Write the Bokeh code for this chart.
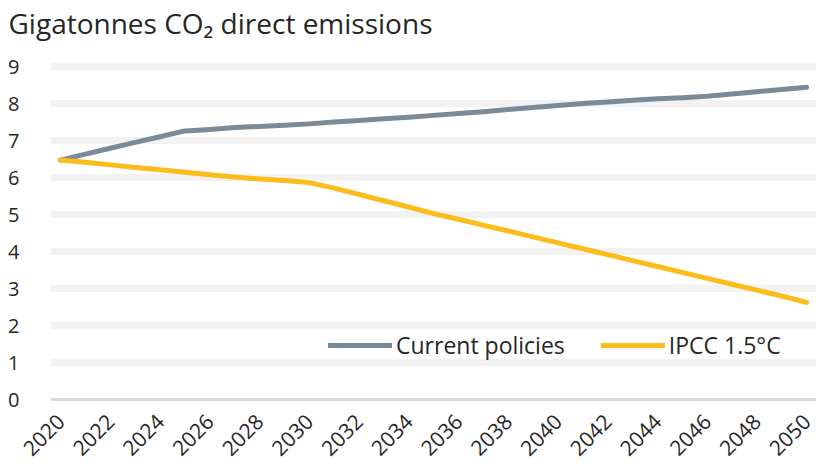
from bokeh.plotting import figure
from bokeh.layouts import column
from bokeh.models import FixedTicker, Span, Range1d, Legend, LegendItem
from bokeh.embed import file_html
from bokeh.resources import INLINE
import math

years = list(range(2020, 2051))
current_policies = [6.48, 6.64, 6.80, 6.96, 7.11, 7.27, 7.31, 7.36, 7.39, 7.42,
                    7.46, 7.51, 7.55, 7.60, 7.64, 7.69, 7.74, 7.79, 7.85, 7.90,
                    7.96, 8.01, 8.05, 8.10, 8.14, 8.17, 8.21, 8.27, 8.33, 8.39, 8.45]
ipcc_15 = [6.48, 6.42, 6.35, 6.28, 6.22, 6.15, 6.08, 6.02, 5.97, 5.93,
           5.87, 5.72, 5.55, 5.38, 5.21, 5.03, 4.88, 4.72, 4.56, 4.40,
           4.24, 4.08, 3.92, 3.76, 3.60, 3.44, 3.28, 3.12, 2.96, 2.80, 2.63]
x_ticks = list(range(2020, 2051, 2))
y_ticks = [0, 1, 2, 3, 4, 5, 6, 7, 8, 9]
title_text = "Gigatonnes CO\u2082 direct emissions"
series_names = ["Current policies", "IPCC 1.5\u00b0C"]

FONT = "Open Sans"
GRAY = "#7a8b97"
YELLOW = "#fbbc1c"
TEXT = "#262626"

W = 816
TITLE_H = 50
CHART_H = 415

# ---- title strip: a title panel over a thin empty frame ----
t = figure(width=W, height=TITLE_H, output_backend="svg", toolbar_location=None,
           x_axis_location=None, y_axis_location=None,
           x_range=Range1d(0, 1), y_range=Range1d(0, 1),
           min_border=0, min_border_left=0, min_border_right=0, min_border_top=0, min_border_bottom=0)
t.grid.visible = False
t.outline_line_color = None
t.title.text = title_text
t.title.text_font = FONT
t.title.text_font_size = "28px"
t.title.text_font_style = "normal"
t.title.text_color = TEXT
t.title.align = "left"
t.title.offset = -42
t.title.standoff = 2

# ---- chart ----
p = figure(width=W, height=CHART_H, output_backend="svg", toolbar_location=None,
           x_range=Range1d(2019.598, 2050.40), y_range=Range1d(-0.054, 9.121),
           min_border_left=50, min_border_right=0, min_border_top=12, min_border_bottom=64)
p.outline_line_color = None

p.xgrid.grid_line_color = None
p.ygrid.ticker = FixedTicker(ticks=[v for v in y_ticks if v != 0])
p.ygrid.grid_line_color = "#f2f2f2"
p.ygrid.grid_line_width = 7
p.add_layout(Span(location=0, dimension="width", line_color="#d9d9d9", line_width=3, level="underlay"))

p.yaxis.ticker = FixedTicker(ticks=y_ticks)
p.xaxis.ticker = FixedTicker(ticks=x_ticks)
for ax in (p.xaxis, p.yaxis):
    ax.axis_line_color = None
    ax.major_tick_line_color = None
    ax.minor_tick_line_color = None
    ax.major_label_text_font = FONT
    ax.major_label_text_color = TEXT
p.yaxis.major_label_text_font_size = "20px"
p.xaxis.major_label_text_font_size = "21px"
p.yaxis.major_label_standoff = 25
p.xaxis.major_label_standoff = 10
p.xaxis.major_label_orientation = math.pi / 4

r1 = p.line(years, current_policies, line_color=GRAY, line_width=5, line_cap="round", line_join="round")
r2 = p.line(years, ipcc_15, line_color=YELLOW, line_width=5, line_cap="round", line_join="round")

legend = Legend(items=[LegendItem(label=series_names[0], renderers=[r1]),
                       LegendItem(label=series_names[1], renderers=[r2])],
                orientation="horizontal", location=(278, 40), padding=0, margin=0,
                spacing=36, label_standoff=4, glyph_width=64, glyph_height=20,
                label_text_font=FONT, label_text_font_size="23px", label_text_color=TEXT,
                background_fill_alpha=0, border_line_alpha=0)
p.add_layout(legend, "center")

layout = column(t, p, spacing=0)
open("out.html", "w").write(file_html(layout, INLINE))
